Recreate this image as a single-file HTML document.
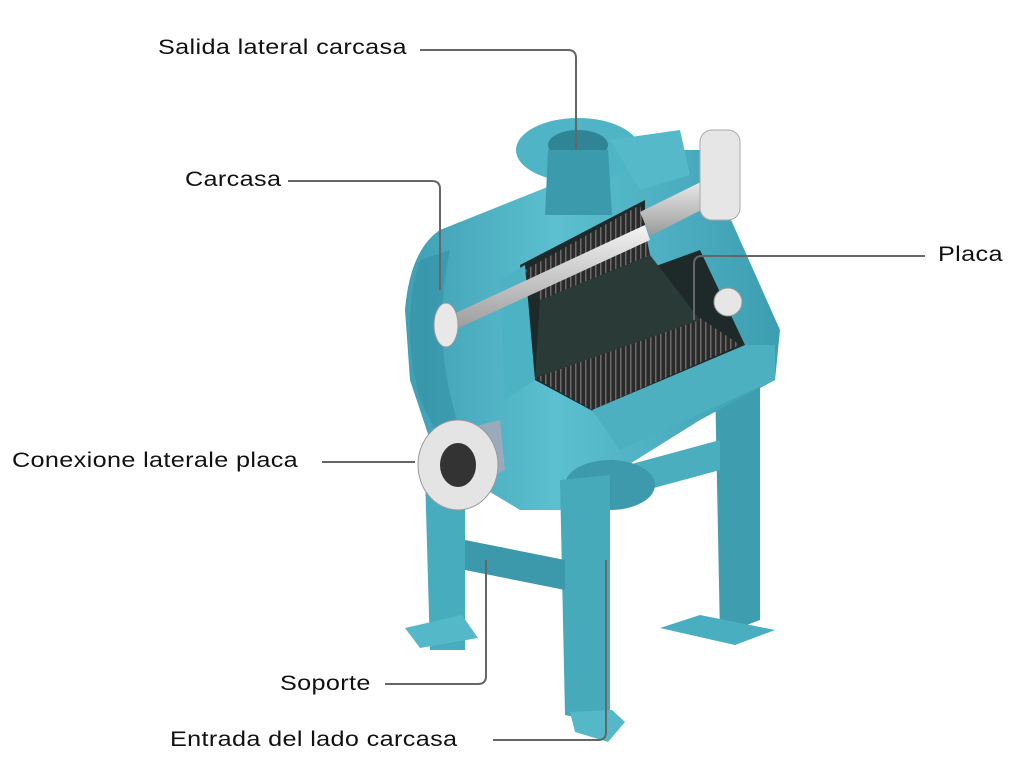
<!DOCTYPE html>
<html><head><meta charset="utf-8"><style>
html,body{margin:0;padding:0;background:#fff;}
.w{position:relative;width:1024px;height:769px;overflow:hidden;font-family:"Liberation Sans",sans-serif;}
.t{position:absolute;font-size:21px;color:#111;letter-spacing:0.3px;white-space:nowrap;transform:scaleX(1.2);transform-origin:0 50%;}
</style></head><body><div class="w">
<svg width="1024" height="769" style="position:absolute;left:0;top:0">
<defs>
<linearGradient id="sh" x1="0" x2="1"><stop offset="0" stop-color="#3f9fb3"/><stop offset="0.4" stop-color="#5cc0d0"/><stop offset="1" stop-color="#3d9db1"/></linearGradient>
<linearGradient id="rod" x1="0" y1="0" x2="0" y2="1"><stop offset="0" stop-color="#f4f4f4"/><stop offset="1" stop-color="#9a9a9a"/></linearGradient>
<pattern id="fin" width="5" height="5" patternUnits="userSpaceOnUse"><rect width="5" height="5" fill="#2a2a2a"/><rect width="1.5" height="5" fill="#6a6a6a"/></pattern>
</defs>
<polygon points="715,380 760,365 760,620 720,635" fill="#3f9db0"/>
<polygon points="700,615 775,630 735,645 660,628" fill="#49aebf"/>
<polygon points="610,470 720,440 720,470 610,500" fill="#4aaebf"/>
<path d="M440,230 L640,150 L700,150 L780,330 L775,380 L700,420 L620,470 L600,510 L520,510 L470,480 L430,440 L410,380 L405,310 Q410,250 440,230 Z" fill="url(#sh)"/>
<path d="M420,260 Q400,320 420,400 L440,440 L460,430 Q430,340 450,250 Z" fill="#3591a6" opacity="0.6"/>
<ellipse cx="578" cy="150" rx="62" ry="32" fill="#4fb4c5"/>
<ellipse cx="578" cy="145" rx="30" ry="15" fill="#2f8596"/>
<polygon points="548,150 608,150 612,215 545,215" fill="#3c9aad"/>
<polygon points="610,140 680,130 690,175 640,190" fill="#55b9c9"/>
<polygon points="520,265 645,200 645,270 700,250 745,345 600,415 535,380" fill="#1e2a2a"/>
<polygon points="525,270 640,205 650,255 540,300" fill="url(#fin)"/>
<polygon points="535,378 700,318 740,345 592,410" fill="url(#fin)"/>
<polygon points="540,300 650,255 700,320 535,378" fill="#2a3a36"/>
<polygon points="500,280 525,265 535,380 505,400" fill="#4db2c3"/>
<polygon points="592,410 745,345 775,345 775,380 620,450" fill="#4cb0c1"/>
<polygon points="445,318 645,225 650,240 450,332" fill="url(#rod)"/>
<polygon points="640,212 715,175 725,198 650,236" fill="url(#rod)"/>
<ellipse cx="446" cy="325" rx="12" ry="22" fill="#e8e8e8" stroke="#999"/>
<rect x="700" y="130" width="40" height="90" rx="12" fill="#e6e6e6" stroke="#aaa"/>
<ellipse cx="728" cy="302" rx="14" ry="14" fill="#e6e6e6" stroke="#999"/>
<ellipse cx="610" cy="485" rx="45" ry="25" fill="#3d9aad"/>
<polygon points="425,475 465,470 465,650 430,650" fill="#47acbd"/>
<polygon points="560,480 610,475 610,725 565,715" fill="#46aabb"/>
<polygon points="465,540 565,560 565,590 465,570" fill="#3c98ab"/>
<polygon points="405,628 462,615 478,638 420,648" fill="#55b8c8"/>
<polygon points="570,712 612,710 625,722 608,742 575,732" fill="#55b8c8"/>
<polygon points="460,430 500,420 505,470 465,490" fill="#9ab"/>
<ellipse cx="458" cy="465" rx="40" ry="45" fill="#e4e4e4" stroke="#999"/>
<ellipse cx="458" cy="465" rx="18" ry="22" fill="#333"/>
</svg>
<svg width="1024" height="769" style="position:absolute;left:0;top:0" fill="none" stroke="#666" stroke-width="2">
<path d="M420,50 H568 Q576,50 576,58 V150"/>
<path d="M288,181 H432 Q440,181 440,189 V290"/>
<path d="M925,256 H702 Q694,256 694,264 V320"/>
<path d="M322,462 H415"/>
<path d="M385,684 H478 Q486,684 486,676 V560"/>
<path d="M493,740 H598 Q606,740 606,732 V560"/>
</svg>
<div class="t" style="left:158px;top:36px">Salida lateral carcasa</div>
<div class="t" style="left:185px;top:168px">Carcasa</div>
<div class="t" style="left:938px;top:243px">Placa</div>
<div class="t" style="left:12px;top:449px">Conexione laterale placa</div>
<div class="t" style="left:280px;top:672px">Soporte</div>
<div class="t" style="left:170px;top:728px">Entrada del lado carcasa</div>
</div></body></html>
